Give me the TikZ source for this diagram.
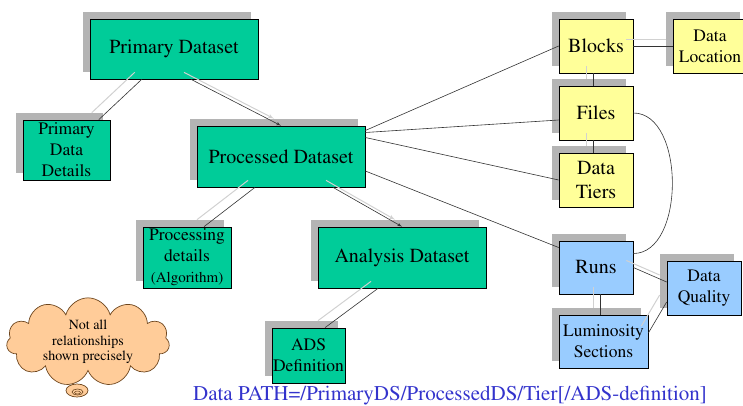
\documentclass[tikz,border=0pt]{standalone}
\usepackage[T1]{fontenc}
\usepackage{times}
\usetikzlibrary{arrows,shapes.symbols,shadows}

\definecolor{dsgreen}{RGB}{0,204,153}
\definecolor{blkyellow}{RGB}{255,255,153}
\definecolor{runblue}{RGB}{153,204,255}
\definecolor{notefill}{RGB}{255,204,153}
\definecolor{noteline}{RGB}{110,70,30}
\definecolor{shadegray}{RGB}{180,180,180}
\definecolor{pathblue}{RGB}{51,51,204}

\tikzset{
  box/.style={draw=black,line width=0.7pt,inner sep=0pt,align=center,
    general shadow={fill=shadegray,shadow xshift=-7pt,shadow yshift=7pt}},
  dsbox/.style={box,fill=dsgreen},
  blkbox/.style={box,fill=blkyellow},
  runbox/.style={box,fill=runblue},
  big/.style={font=\fontsize{20}{24}\selectfont},
  mid/.style={font=\fontsize{17.5}{21}\selectfont},
  link/.style={draw=black!80,line width=0.6pt},
  ghost/.style={draw=black!18,line width=1pt,transform canvas={xshift=-7pt,yshift=7pt}},
}

\begin{document}
\begin{tikzpicture}[x=1pt,y=-1pt,>=latex']
  \useasboundingbox (0,0) rectangle (743,405);

  % datasets
  \node[dsbox,big,minimum width=168pt,minimum height=60pt] (prim) at (174,49) {Primary Dataset};
  \node[dsbox,mid,minimum width=87pt,minimum height=60pt] (pdet) at (66.5,150) {Primary\\Data\\Details};
  \node[dsbox,big,minimum width=168pt,minimum height=61pt] (proc) at (281,156.5) {Processed Dataset};
  \node[dsbox,mid,minimum width=88pt,minimum height=61pt] (algo) at (187,257.5) {Processing\\details\\{\fontsize{15}{18}\selectfont(Algorithm)}};
  \node[dsbox,big,minimum width=168pt,minimum height=61pt] (ads) at (402,257.5) {Analysis Dataset};
  \node[dsbox,mid,minimum width=73pt,minimum height=55pt] (adsdef) at (308.5,355.5) {ADS\\Definition};

  % blocks and files
  \node[blkbox,big,minimum width=74pt,minimum height=54pt] (blocks) at (596,46) {Blocks};
  \node[blkbox,mid,minimum width=74pt,minimum height=54pt] (loc) at (710,46) {Data\\Location};
  \node[blkbox,big,minimum width=74pt,minimum height=54pt] (files) at (596,113) {Files};
  \node[blkbox,big,minimum width=74pt,minimum height=54pt] (tiers) at (596,180) {Data\\Tiers};

  % runs
  \node[runbox,big,minimum width=74pt,minimum height=53pt] (runs) at (596,267.5) {Runs};
  \node[runbox,mid,minimum width=74pt,minimum height=54pt] (dq) at (704,288) {Data\\Quality};
  \node[runbox,mid,minimum width=89pt,minimum height=53pt] (lumi) at (603.5,341.5) {Luminosity\\Sections};

  % tree links with their grey shade
  \foreach \s in {ghost,link} {
    \draw[\s] (prim) -- (pdet);
    \draw[\s,->] ([xshift=17pt]prim.south) -- (proc.north);
    \draw[\s] ([xshift=-26pt]proc.south) -- ([xshift=17pt]algo.north);
    \draw[\s,->] ([xshift=52pt]proc.south) -- (ads.north);
    \draw[\s] ([xshift=-24pt]ads.south) -- ([xshift=16.5pt]adsdef.north);
    \draw[\s] (blocks.east) -- (loc.west);
    \draw[\s] ([xshift=-3pt]blocks.south) -- ([xshift=-3pt]files.north);
    \draw[\s] ([xshift=-3pt]files.south) -- ([xshift=-3pt]tiers.north);
    \draw[\s] (runs.east) -- ([yshift=6pt]dq.west);
    \draw[\s] ([xshift=4pt]runs.south) -- ([xshift=-3.5pt]lumi.north);
    \draw[\s] ([yshift=8.5pt]lumi.east) -- ([yshift=-14pt]dq.west);
  }

  % links out of the processed dataset
  \draw[link] ([yshift=26pt]proc.east) -- (blocks.west);
  \draw[link] ([yshift=24pt]proc.east) -- ([yshift=-7pt]files.west);
  \draw[link] ([yshift=19pt]proc.east) -- (tiers.west);
  \draw[link] ([yshift=-14.5pt]proc.east) -- ([yshift=20pt]runs.west);
  \draw[link] (files.east) .. controls +(52,0) and +(52,0) .. ([yshift=14pt]runs.east);

  % note
  \node[cloud,cloud puffs=11,aspect=2.2,draw=noteline,fill=notefill,line width=0.7pt,
        minimum width=163pt,minimum height=75pt,inner sep=0pt,align=center,
        font=\fontsize{14}{15.5}\selectfont] (note) at (88,342) {Not all\\relationships\\shown precisely};
  \draw[noteline,fill=notefill,line width=0.7pt] (77,390.5) ellipse [x radius=11,y radius=6.5];
  \draw[noteline,line width=0.6pt] (77.5,392) ellipse [x radius=5.5,y radius=3];
  \draw[noteline,line width=0.5pt] (77.5,392.5) ellipse [x radius=3,y radius=1.5];

  \node[font=\fontsize{21}{25}\selectfont,text=pathblue,anchor=base] (path) at (450,400.5)
    {Data PATH=/PrimaryDS/ProcessedDS/Tier[/ADS-definition]};
\end{tikzpicture}
\end{document}
